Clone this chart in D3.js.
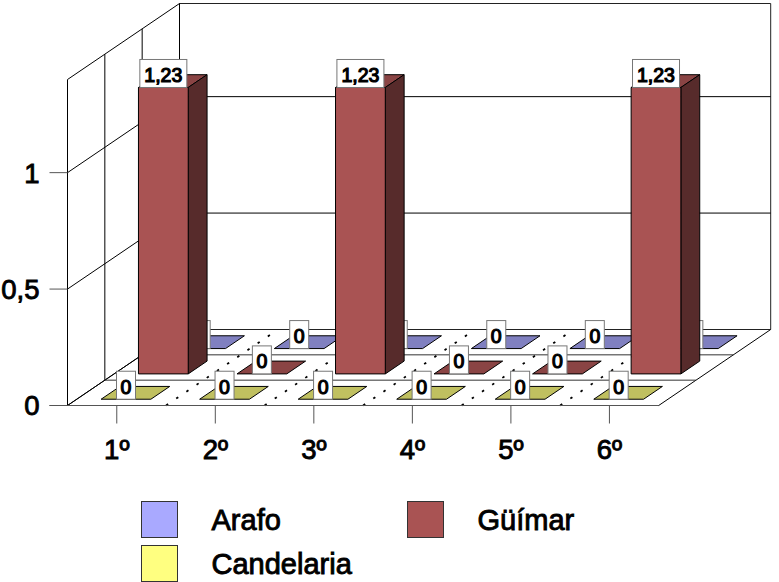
<!DOCTYPE html>
<html>
<head>
<meta charset="utf-8">
<script src="https://cdn.jsdelivr.net/npm/d3@7"></script>
<style>
html,body{margin:0;padding:0;background:#fff}
svg{display:block}
text{font-family:"Liberation Sans",Arial,sans-serif;font-weight:normal;fill:#000;stroke:#000;stroke-width:0.9px}
</style>
</head>
<body>
<svg id="chart" width="779" height="582"></svg>
<script>
const categories = ["1º","2º","3º","4º","5º","6º"];
const arafo      = [0,0,0,0,0,0];
const guimar     = [1.23,0,1.23,0,0,1.23];
const candelaria = [0,0,0,0,0,0];
const yTicks     = [0,0.5,1];

// Rows run from the front of the floor to the back
const rows = [
  {name:"Candelaria", values:candelaria, front:"#FFFF80", top:"#C0C060", side:"#60602F"},
  {name:"Güímar",     values:guimar,     front:"#A95353", top:"#8A4444", side:"#572B2B"},
  {name:"Arafo",      values:arafo,      front:"#A9A9FF", top:"#8080C0", side:"#404060"}
];
const legendItems = [
  {name:"Arafo",      fill:"#A9A9FF", col:0, row:0},
  {name:"Candelaria", fill:"#FFFF80", col:0, row:1},
  {name:"Güímar",     fill:"#A95353", col:1, row:0}
];

const svg = d3.select("#chart");
const plot = {left:67.5, right:658.7, top:79.5, bottom:405.5, depthX:112, depthY:76};
const gap = 0.495;

const x = d3.scaleBand(categories,[plot.left,plot.right]).paddingInner(gap).paddingOuter(gap/2);
const xEdge = d3.scaleLinear([0,categories.length],[plot.left,plot.right]);
const y = d3.scaleLinear([0,1.4],[plot.bottom,plot.top]);
const z = d3.scaleBand(rows.map(r=>r.name),[0,1]).paddingInner(gap).paddingOuter(gap/2);
const zEdge = d3.scaleLinear([0,rows.length],[0,1]);

// Oblique projection: depth shifts a point right and up
const px = (sx,depth) => sx + depth*plot.depthX;
const py = (sy,depth) => sy - depth*plot.depthY;
const P = (sx,v,depth) => [px(sx,depth), py(y(v),depth)];
const poly = pts => "M" + pts.map(p=>p.join(",")).join("L") + "Z";
const seg = (a,b) => "M" + a.join(",") + "L" + b.join(",");
const fmt = v => String(v).replace(".",",");

const walls = svg.append("g").attr("fill","none").attr("stroke","#000");
const xL = plot.left, xR = plot.right, vMax = y.domain()[1];

// Walls and floor
walls.append("path").attr("d",poly([P(xL,0,0),P(xR,0,0),P(xR,0,1),P(xL,0,1)])).attr("fill","#fff");
walls.append("path").attr("d",poly([P(xL,0,1),P(xR,0,1),P(xR,vMax,1),P(xL,vMax,1)])).attr("stroke","#222");
walls.append("path").attr("d",poly([P(xL,0,0),P(xL,0,1),P(xL,vMax,1),P(xL,vMax,0)]));

// Value gridlines across the left and back walls
yTicks.filter(t=>t>0).forEach(t=>{
  walls.append("path").attr("d",seg(P(xL,t,0),P(xL,t,1)));
  walls.append("path").attr("d",seg(P(xL,t,1),P(xR,t,1)));
});

// Depth gridlines at each row boundary
d3.range(1,rows.length).forEach(i=>{
  const d = zEdge(i);
  walls.append("path").attr("d",seg(P(xL,0,d),P(xL,vMax,d)));
  walls.append("path").attr("d",seg(P(xL,0,d),P(xR,0,d))).attr("stroke","#333");
});

// Dotted category boundaries on the floor
d3.range(1,categories.length).forEach(i=>{
  walls.append("path").attr("d",seg(P(xEdge(i),0,0),P(xEdge(i),0,1)))
    .attr("stroke-width",1.8).attr("stroke-dasharray","2.5 9.8");
});

// Bars, back row first so nearer rows overlap them
const bars = svg.append("g");
rows.slice().reverse().forEach(row=>{
  const z0 = z(row.name), z1 = z0 + z.bandwidth();
  row.values.forEach((v,i)=>{
    const x0 = x(categories[i]), x1 = x0 + x.bandwidth();
    const g = bars.append("g").attr("stroke","#000").attr("stroke-linejoin","round");
    g.append("path").attr("d",poly([P(x0,v,z0),P(x1,v,z0),P(x1,v,z1),P(x0,v,z1)])).attr("fill",row.top);
    if (v>0) {
      g.append("path").attr("d",poly([P(x1,0,z0),P(x1,0,z1),P(x1,v,z1),P(x1,v,z0)])).attr("fill",row.side);
      g.append("path").attr("d",poly([P(x0,0,z0),P(x1,0,z0),P(x1,v,z0),P(x0,v,z0)])).attr("fill",row.front);
    }
    // Value label sits on the front edge of the bar
    const label = fmt(v);
    const boxW = label.length>1 ? 47 : 19, boxH = 28;
    const cx = px((x0+x1)/2,z0), base = py(y(v),z0);
    const lab = bars.append("g");
    lab.append("rect").attr("x",cx-boxW/2).attr("y",base-boxH).attr("width",boxW).attr("height",boxH)
      .attr("fill","#fff").attr("stroke","#777");
    lab.append("text").attr("x",cx).attr("y",base-5.5).attr("text-anchor","middle")
      .attr("font-size",19.5).style("stroke-width","1.2px").text(label);
  });
});

// Axes along the front edge
const yAxis = svg.append("g").attr("transform",`translate(${plot.left},0)`)
  .call(d3.axisLeft(y).tickValues(yTicks).tickFormat(fmt).tickSize(18).tickSizeOuter(0).offset(0));
yAxis.select(".domain").remove();
const xAxis = svg.append("g").attr("transform",`translate(0,${plot.bottom})`)
  .call(d3.axisBottom(x).tickSize(18).tickSizeOuter(0).offset(0));
xAxis.select(".domain").attr("stroke","#555");
svg.selectAll(".tick line").attr("stroke","#555");
svg.selectAll(".tick text").attr("font-size",27.5).attr("font-family",null).attr("fill",null);
yAxis.selectAll(".tick text").attr("x",-28).attr("dy","0.36em");
xAxis.selectAll(".tick text").attr("y",34).attr("dy","0.71em");
svg.append("path").attr("d",seg([49.5,plot.bottom],[plot.left,plot.bottom])).attr("stroke","#555");

// Legend
const legend = svg.append("g");
const colX = d3.scaleOrdinal([0,1],[141.5,407.5]);
const rowY = d3.scaleOrdinal([0,1],[501.5,545.5]);
legendItems.forEach(d=>{
  legend.append("rect").attr("x",colX(d.col)).attr("y",rowY(d.row)).attr("width",36).attr("height",36)
    .attr("fill",d.fill).attr("stroke","#333");
  legend.append("text").attr("x",colX(d.col)+70).attr("y",rowY(d.row)+28.5).attr("font-size",29).text(d.name);
});
</script>
</body>
</html>
